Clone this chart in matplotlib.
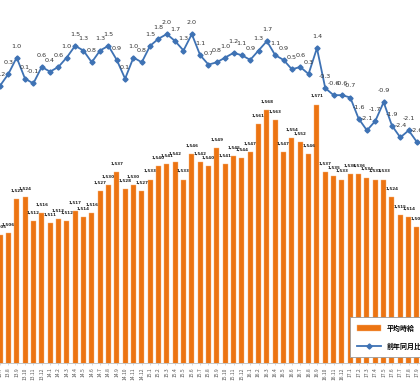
import numpy as np
import matplotlib
matplotlib.use("Agg")
import matplotlib.pyplot as plt

plt.rcParams['font.family'] = ['Noto Sans CJK JP', 'DejaVu Sans']

# ── data ────────────────────────────────────────────────
months = ['13.7', '13.8', '13.9', '13.10', '13.11', '13.12',
          '14.1', '14.2', '14.3', '14.4', '14.5', '14.6', '14.7', '14.8', '14.9', '14.10', '14.11', '14.12',
          '15.1', '15.2', '15.3', '15.4', '15.5', '15.6', '15.7', '15.8', '15.9', '15.10', '15.11', '15.12',
          '16.1', '16.2', '16.3', '16.4', '16.5', '16.6', '16.7', '16.8', '16.9', '16.10', '16.11', '16.12',
          '17.1', '17.2', '17.3', '17.4', '17.5', '17.6', '17.7', '17.8', '17.9']

wage = [1505, 1506, 1523, 1524, 1512, 1516,
        1511, 1513, 1512, 1517, 1514, 1516, 1527, 1530, 1537, 1528, 1530, 1527,
        1533, 1540, 1541, 1542, 1533, 1546, 1542, 1540, 1549, 1541, 1545, 1544,
        1547, 1561, 1568, 1563, 1547, 1554, 1552, 1546, 1571, 1537, 1535, 1533,
        1536, 1536, 1534, 1533, 1533, 1524, 1515, 1514, 1509]

yoy = [-0.2, 0.3, 1.0, 0.1, -0.1, 0.6,
       0.4, 0.6, 1.0, 1.5, 1.3, 0.8, 1.3, 1.5, 0.9, 0.1, 1.0, 0.8,
       1.5, 1.8, 2.0, 1.7, 1.3, 2.0, 1.1, 0.7, 0.8, 1.0, 1.2, 1.1,
       0.9, 1.3, 1.7, 1.1, 0.9, 0.5, 0.6, 0.3, 1.4, -0.3, -0.6, -0.6,
       -0.7, -1.6, -2.1, -1.7, -0.9, -1.9, -2.4, -2.1, -2.6]

bar_color = '#EC7412'
line_color = '#3E72B4'

# ── plot ────────────────────────────────────────────────
fig = plt.figure(figsize=(4.2, 3.9), dpi=100)
ax = fig.add_axes([0, 27 / 390, 1, 363 / 390])
x = np.arange(len(months))

bars = ax.bar(x, wage, width=0.6, color=bar_color, edgecolor='#F6B27A',
              linewidth=0.3, label='平均時給', zorder=2)
for xi, v in zip(x, wage):
    ax.annotate(f'{v:,}', (xi, v), xytext=(0, 4.5), textcoords='offset points',
                ha='center', va='bottom', fontsize=3.0, fontweight='bold',
                color='#222222', family=['DejaVu Sans'])

ax.set_ylim(1440, 1624)
ax.set_xlim(0.06, 50.36)
ax.set_yticks([])
for s in ['top', 'right', 'left']:
    ax.spines[s].set_visible(False)
ax.spines['bottom'].set_color('#BBBBBB')
ax.spines['bottom'].set_linewidth(0.6)
ax.set_xticks(x)
ax.set_xticklabels(months, rotation=90, fontsize=3.6, color='#555555')
ax.tick_params(axis='x', length=1.5, width=0.4, color='#BBBBBB', pad=1.5)

ax2 = ax.twinx()
line, = ax2.plot(x, yoy, color=line_color, lw=1.3, marker='D', ms=2.6,
                 label='前年同月比', zorder=3)
for xi, v in zip(x, yoy):
    ax2.annotate(f'{v:.1f}', (xi, v), xytext=(0, 6.5), textcoords='offset points',
                 ha='center', va='bottom', fontsize=4.6, color='#333333',
                 family=['DejaVu Sans'])
ax2.set_ylim(-12.0, 3.45)
ax2.set_yticks([])
for s in ['top', 'right', 'left', 'bottom']:
    ax2.spines[s].set_visible(False)

leg = fig.legend([bars, line], ['平均時給', '前年同月比'], loc='upper left',
                 bbox_to_anchor=(347 / 420, 1 - 314 / 390), fontsize=5,
                 prop={'weight': 'bold', 'size': 5},
                 handlelength=3.4, handleheight=0.9, labelspacing=1.6,
                 borderpad=1.0, frameon=True, fancybox=False,
                 edgecolor='#999999', framealpha=1)
leg.get_frame().set_linewidth(0.6)

fig.savefig('out.png', dpi=100)
